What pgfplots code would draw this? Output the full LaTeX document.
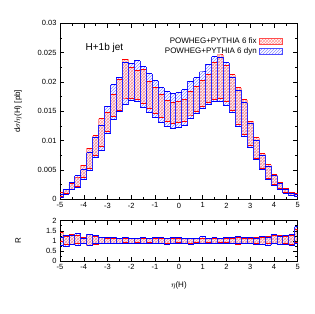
\documentclass[border=0pt]{standalone}
\usepackage{pgfplots}
\pgfplotsset{compat=1.18}
\usepackage{pgfplotstable}
\usetikzlibrary{patterns}
\usepackage{fontspec}
\setmainfont{Liberation Sans}

\pgfplotstableread{
c blo bhi rlo rhi
-5.00 0.0003 0.0009 0.0005 0.0011
-4.75 0.0009 0.0016 0.0010 0.0017
-4.50 0.0016 0.0028 0.0017 0.0027
-4.25 0.0020 0.0040 0.0022 0.0038
-4.00 0.0034 0.0050 0.0037 0.0058
-3.75 0.0049 0.0079 0.0052 0.0087
-3.50 0.0071 0.0106 0.0074 0.0108
-3.25 0.0084 0.0126 0.0090 0.0137
-3.00 0.0112 0.0159 0.0116 0.0148
-2.75 0.0136 0.0195 0.0141 0.0179
-2.50 0.0149 0.0208 0.0152 0.0204
-2.25 0.0161 0.0234 0.0171 0.0239
-2.00 0.0168 0.0231 0.0172 0.0224
-1.75 0.0166 0.0236 0.0170 0.0219
-1.50 0.0157 0.0226 0.0164 0.0222
-1.25 0.0148 0.0214 0.0155 0.0200
-1.00 0.0140 0.0202 0.0147 0.0190
-0.75 0.0131 0.0190 0.0140 0.0178
-0.50 0.0124 0.0183 0.0133 0.0168
-0.25 0.0121 0.0180 0.0130 0.0165
0.00 0.0123 0.0182 0.0131 0.0166
0.25 0.0125 0.0187 0.0133 0.0170
0.50 0.0137 0.0201 0.0142 0.0183
0.75 0.0146 0.0207 0.0150 0.0192
1.00 0.0154 0.0217 0.0158 0.0202
1.25 0.0162 0.0230 0.0165 0.0213
1.50 0.0167 0.0243 0.0170 0.0234
1.75 0.0167 0.0242 0.0172 0.0246
2.00 0.0160 0.0233 0.0166 0.0228
2.25 0.0148 0.0208 0.0152 0.0212
2.50 0.0124 0.0186 0.0127 0.0190
2.75 0.0107 0.0165 0.0110 0.0170
3.00 0.0089 0.0130 0.0092 0.0133
3.25 0.0068 0.0101 0.0070 0.0105
3.50 0.0050 0.0075 0.0052 0.0078
3.75 0.0034 0.0056 0.0036 0.0059
4.00 0.0024 0.0040 0.0025 0.0042
4.25 0.0017 0.0027 0.0018 0.0029
4.50 0.0010 0.0016 0.0011 0.0018
4.75 0.0006 0.0010 0.0007 0.0012
5.00 0.0004 0.0008 0.0005 0.0010
}\datamain

\pgfplotstableread{
c blo bhi rlo rhi
-5.00 0.78 1.15 0.95 1.42
-4.75 0.70 1.25 0.80 1.20
-4.50 0.82 1.28 0.80 1.30
-4.25 0.78 1.35 0.85 1.25
-4.00 0.88 1.12 0.85 1.15
-3.75 0.78 1.33 0.75 1.30
-3.50 0.85 1.25 0.82 1.22
-3.25 0.87 1.18 0.88 1.15
-3.00 0.88 1.15 0.85 1.12
-2.75 0.86 1.18 0.87 1.13
-2.50 0.87 1.14 0.88 1.12
-2.25 0.86 1.17 0.90 1.12
-2.00 0.87 1.14 0.89 1.10
-1.75 0.89 1.12 0.90 1.11
-1.50 0.86 1.16 0.89 1.12
-1.25 0.87 1.13 0.90 1.10
-1.00 0.85 1.18 0.89 1.12
-0.75 0.86 1.15 0.88 1.11
-0.50 0.84 1.12 0.87 1.10
-0.25 0.86 1.16 0.89 1.12
0.00 0.88 1.15 0.90 1.11
0.25 0.87 1.13 0.88 1.12
0.50 0.84 1.12 0.88 1.10
0.75 0.88 1.14 0.90 1.11
1.00 0.87 1.20 0.89 1.12
1.25 0.88 1.14 0.90 1.10
1.50 0.86 1.15 0.89 1.12
1.75 0.88 1.13 0.90 1.11
2.00 0.87 1.18 0.90 1.12
2.25 0.86 1.16 0.88 1.10
2.50 0.85 1.20 0.83 1.16
2.75 0.87 1.15 0.88 1.12
3.00 0.86 1.18 0.87 1.12
3.25 0.84 1.13 0.86 1.16
3.50 0.82 1.23 0.80 1.18
3.75 0.78 1.18 0.85 1.22
4.00 0.85 1.30 0.88 1.25
4.25 0.84 1.22 0.80 1.28
4.50 0.80 1.28 0.86 1.20
4.75 0.78 1.30 0.82 1.25
5.00 0.88 1.70 0.90 1.55
}\dataratio

\pgfplotsset{
  bandstyle/.style={
    scale only axis, width=237.7pt, anchor=south west,
    xmin=-5, xmax=5, xtick={-5,-4,-3,-2,-1,0,1,2,3,4,5}, minor x tick num=1,
    tick align=inside,
    ticklabel style={font=\fontsize{7.5}{9}\selectfont},
    label style={font=\fontsize{8}{10}\selectfont},
    /pgf/number format/assume math mode=true,
    axis line style={line width=0.8pt},
    major tick length=4.5pt, minor tick length=2.5pt,
    every tick/.style={black, line width=0.5pt},
  },
  mainpos/.style={at={(60pt,114.7pt)}, height=176pt, ymin=0, ymax=0.03},
  ratiopos/.style={at={(60pt,53pt)}, height=40.3pt, ymin=0, ymax=2},
  fillax/.style={bandstyle, hide axis, stack plots=y},
  bluefill/.style={draw=none, const plot mark mid, pattern=north east lines, pattern color=blue!45},
  redfill/.style={draw=none, const plot mark mid, pattern=crosshatch, pattern color=red!40},
}

% band fill: two stacked plots, the second filled down to the first
\newcommand{\bandfill}[4]{% #1 table, #2 lo col, #3 hi col, #4 style
  \addplot[draw=none, const plot mark mid, forget plot] table[x=c,y=#2] #1;
  \addplot[#4, forget plot] table[x=c, y expr=\thisrow{#3}-\thisrow{#2}] #1 \closedcycle;
}
% box outlines
\newcommand{\boxlines}[5]{% #1 table, #2 lo, #3 hi, #4 colour tops, #5 colour sides
  \addplot[draw=none, mark=none, forget plot,
    error bars/.cd, y dir=both, y explicit, error mark=none,
    error bar style={draw=#5, line width=0.8pt}]
    table[x expr=\thisrow{c}-0.125, y expr=0.5*(\thisrow{#3}+\thisrow{#2}), y error expr=0.5*(\thisrow{#3}-\thisrow{#2})] #1;
  \addplot[draw=none, mark=none, forget plot,
    error bars/.cd, y dir=both, y explicit, error mark=none,
    error bar style={draw=#5, line width=0.8pt}]
    table[x expr=\thisrow{c}+0.125, y expr=0.5*(\thisrow{#3}+\thisrow{#2}), y error expr=0.5*(\thisrow{#3}-\thisrow{#2})] #1;
  \addplot[#4, line width=1pt, jump mark mid, forget plot] table[x=c,y=#3] #1;
  \addplot[#4, line width=1pt, jump mark mid, forget plot] table[x=c,y=#2] #1;
}

\begin{document}
\begin{tikzpicture}

% ---------- main panel fills
\begin{axis}[fillax, mainpos]
\bandfill{\datamain}{blo}{bhi}{bluefill}
\end{axis}
\begin{axis}[fillax, mainpos]
\bandfill{\datamain}{rlo}{rhi}{redfill}
\end{axis}
% ---------- main panel lines and frame
\begin{axis}[bandstyle, mainpos,
  ytick={0,0.005,0.01,0.015,0.02,0.025,0.03}, minor y tick num=1,
  scaled y ticks=false,
  yticklabel style={/pgf/number format/fixed, /pgf/number format/precision=3},
  ylabel={d$\sigma$/$\eta$(H) [pb]},
  ylabel style={at={(axis description cs:-0.176,0.5)}, anchor=center},
  legend plot pos=right, legend cell align=right,
  legend style={draw=none, fill=none, at={(0.937,0.93)}, anchor=north east,
    font=\fontsize{8}{9}\selectfont, row sep=-1.2pt, inner sep=0pt},
]
\boxlines{\datamain}{rlo}{rhi}{red}{red!40}
\boxlines{\datamain}{blo}{bhi}{blue}{blue!85}
\addlegendimage{legend image code/.code={\draw[pattern=crosshatch, pattern color=red!40, draw=red!70, line width=0.8pt] (0pt,-3pt) rectangle (23pt,3pt);}}
\addlegendentry{POWHEG+PYTHIA 6 fix}
\addlegendimage{legend image code/.code={\draw[pattern=north east lines, pattern color=blue!45, draw=blue!70, line width=0.8pt] (0pt,-3pt) rectangle (23pt,3pt);}}
\addlegendentry{POWHEG+PYTHIA 6 dyn}
\node[anchor=west, font=\fontsize{10}{12}\selectfont] at (rel axis cs:0.093,0.862) {H+1b jet};
\end{axis}

% ---------- ratio panel fills
\begin{axis}[fillax, ratiopos]
\bandfill{\dataratio}{blo}{bhi}{bluefill}
\end{axis}
\begin{axis}[fillax, ratiopos]
\bandfill{\dataratio}{rlo}{rhi}{redfill}
\end{axis}
% ---------- ratio panel lines and frame
\begin{axis}[bandstyle, ratiopos,
  ytick={0,0.5,1,1.5,2}, minor y tick num=1,
  ylabel={R}, xlabel={$\eta$(H)},
  ylabel style={at={(axis description cs:-0.176,0.5)}, anchor=center},
  xlabel style={at={(axis description cs:0.5,-0.6)}, anchor=center},
]
\boxlines{\dataratio}{rlo}{rhi}{red}{red!40}
\boxlines{\dataratio}{blo}{bhi}{blue}{blue!85}
\end{axis}
\path (0,0) rectangle (314pt,314pt);
\end{tikzpicture}
\end{document}
